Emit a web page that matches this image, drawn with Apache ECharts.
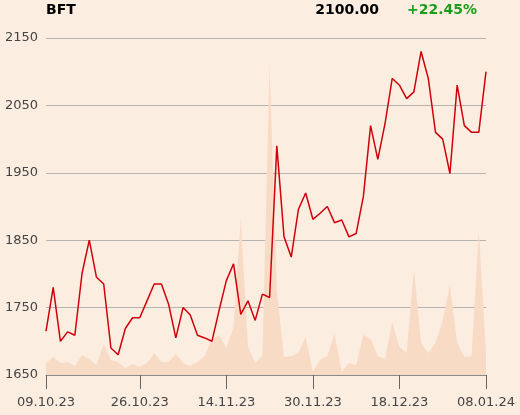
<!DOCTYPE html>
<html>
<head>
<meta charset="utf-8">
<script src="https://cdn.jsdelivr.net/npm/echarts@6/dist/echarts.min.js"></script>
<style>
html,body{margin:0;padding:0;background:#fcede1;}
#chart{width:520px;height:415px;}
</style>
</head>
<body>
<div id="chart"></div>
<script>
// Trading dates (categories)
var dates = [
 '09.10.23','10.10.23','11.10.23','12.10.23','13.10.23','16.10.23','17.10.23','18.10.23','19.10.23','20.10.23',
 '23.10.23','24.10.23','25.10.23','26.10.23','27.10.23','30.10.23','31.10.23',
 '02.11.23','03.11.23','06.11.23','07.11.23','08.11.23','09.11.23','10.11.23','13.11.23','14.11.23',
 '15.11.23','16.11.23','17.11.23','20.11.23','21.11.23','22.11.23','23.11.23','24.11.23','27.11.23',
 '28.11.23','29.11.23','30.11.23',
 '01.12.23','04.12.23','05.12.23','06.12.23','07.12.23','08.12.23','11.12.23','12.12.23','13.12.23',
 '14.12.23','15.12.23','18.12.23','19.12.23','20.12.23','21.12.23','22.12.23','27.12.23','28.12.23','29.12.23',
 '02.01.24','03.01.24','04.01.24','05.01.24','08.01.24'
];
// Closing prices
var prices = [
 1715,1780,1700,1714,1709,1801,1850,1795,1785,1690,
 1680,1719,1735,1735,1760,1785,1785,1755,1705,1750,
 1739,1709,1705,1700,1746,1790,1815,1740,1760,1731,
 1770,1765,1990,1855,1825,1896,1920,1881,1890,1900,
 1876,1880,1855,1860,1915,2020,1970,2023,2090,2080,
 2060,2070,2130,2090,2010,2000,1949,2080,2020,2010,
 2010,2100
];
// Traded volume (relative units)
var volumes = [
 12,18,12,13,9,20,16,10,31,15,
 13,7,11,8,12,22,13,13,21,12,
 9,13,19,36,40,27,48,156,29,12,
 19,311,84,18,19,22,38,3,15,19,
 41,3,12,10,40,36,19,16,53,28,
 22,106,32,22,32,55,90,32,18,19,
 145,22
];
var tickIdx = [0,13,25,37,49,61];
var yTicks = [1650,1750,1850,1950,2050,2150];
var ticker = 'BFT';
var lastPrice = '2100.00';
var change = '+22.45%';

var chart = echarts.init(document.getElementById('chart'), null, {renderer:'canvas'});
var showIdx = function(i){ return tickIdx.indexOf(i) >= 0; };
chart.setOption({
  backgroundColor:'#fcede1',
  animation:false,
  textStyle:{fontFamily:'DejaVu Sans'},
  grid:{left:46,right:34,top:38,bottom:40},
  graphic:[
    {type:'text',left:46,top:3,style:{text:ticker,font:'bold 14px "DejaVu Sans"',fill:'#000'}},
    {type:'text',right:141,top:3,style:{text:lastPrice,font:'bold 14px "DejaVu Sans"',fill:'#000'}},
    {type:'text',left:407,top:3,style:{text:change,font:'bold 14px "DejaVu Sans"',fill:'#1a9e1a'}}
  ],
  xAxis:{
    type:'category',
    data:dates,
    boundaryGap:false,
    axisLine:{show:true,lineStyle:{color:'#8a8a8a',width:1}},
    axisTick:{show:true,interval:function(i){return showIdx(i);},length:14,lineStyle:{color:'#666'}},
    axisLabel:{interval:function(i){return showIdx(i);},color:'#444',fontSize:13,margin:21,fontFamily:'DejaVu Sans'},
    splitLine:{show:false}
  },
  yAxis:[{
    type:'value',
    min:yTicks[0],max:yTicks[yTicks.length-1],interval:100,
    axisLine:{show:false},axisTick:{show:false},
    axisLabel:{color:'#444',fontSize:13,margin:8,fontFamily:'DejaVu Sans',formatter:function(v){return String(v);}},
    splitLine:{show:true,lineStyle:{color:'#b8b3ae',width:1}}
  },{
    type:'value',min:0,max:337,show:false,
    splitLine:{show:false}
  }],
  series:[{
    type:'line',
    yAxisIndex:1,
    data:volumes,
    symbol:'none',
    lineStyle:{width:0},
    areaStyle:{color:'#f8dbc5',opacity:1},
    z:1
  },{
    type:'line',
    data:prices,
    symbol:'none',
    lineStyle:{color:'#d0000b',width:1.5},
    z:3
  }]
});
</script>
</body>
</html>
